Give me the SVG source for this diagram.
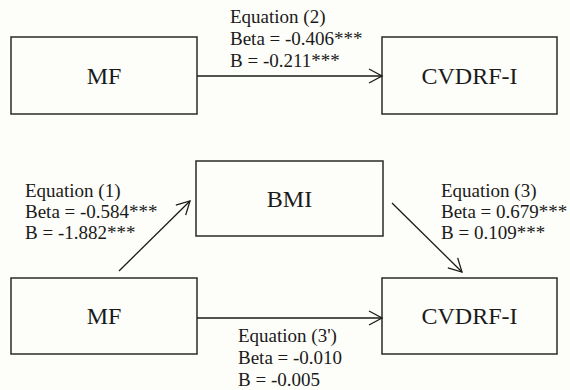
<svg xmlns="http://www.w3.org/2000/svg" width="570" height="390" viewBox="0 0 570 390">
<style>
.box{fill:none;stroke:#2a2a2a;stroke-width:1.5}
.node text{font-family:"Liberation Serif","Times New Roman",serif;font-size:24px;fill:#1a1a1a;text-anchor:middle}
.lbl{font-family:"Liberation Serif","Times New Roman",serif;font-size:19px;fill:#1a1a1a}
.edge{stroke:#1a1a1a;stroke-width:1.3;fill:none;marker-end:url(#arr)}
</style>
<defs>
<marker id="arr" markerUnits="userSpaceOnUse" markerWidth="16" markerHeight="18" refX="14" refY="8" orient="auto">
<path d="M1,1 L14,8 L1,15" fill="none" stroke="#1a1a1a" stroke-width="1.3"/>
</marker>
</defs>
<rect width="570" height="390" fill="#fdfdf9"/>
<g id="mf-top" class="node"><rect class="box" x="11" y="37" width="186" height="77"/><text x="104" y="84">MF</text></g>
<g id="cvdrf-top" class="node"><rect class="box" x="382" y="37" width="175" height="77"/><text x="469.5" y="84">CVDRF-I</text></g>
<g id="bmi" class="node"><rect class="box" x="196" y="161" width="187" height="75"/><text x="289.5" y="207">BMI</text></g>
<g id="mf-bottom" class="node"><rect class="box" x="11" y="278" width="186" height="76"/><text x="104" y="324">MF</text></g>
<g id="cvdrf-bottom" class="node"><rect class="box" x="382" y="278" width="175" height="76"/><text x="469.5" y="324">CVDRF-I</text></g>
<g id="connectors">
<line class="edge" x1="197" y1="76" x2="382" y2="76"/>
<line class="edge" x1="119" y1="271" x2="190" y2="201"/>
<line class="edge" x1="392" y1="203" x2="462" y2="272"/>
<line class="edge" x1="197" y1="318" x2="382" y2="318"/>
</g>
<g id="labels" class="lbl">
<text x="230" y="23">Equation (2)</text>
<text x="230" y="45">Beta = -0.406***</text>
<text x="230" y="67">B = -0.211***</text>
<text x="25" y="197">Equation (1)</text>
<text x="25" y="218">Beta = -0.584***</text>
<text x="25" y="239">B = -1.882***</text>
<text x="441" y="197">Equation (3)</text>
<text x="441" y="218">Beta = 0.679***</text>
<text x="441" y="239">B = 0.109***</text>
<text x="238" y="342">Equation (3')</text>
<text x="238" y="364">Beta = -0.010</text>
<text x="238" y="386">B = -0.005</text>
</g>
</svg>
